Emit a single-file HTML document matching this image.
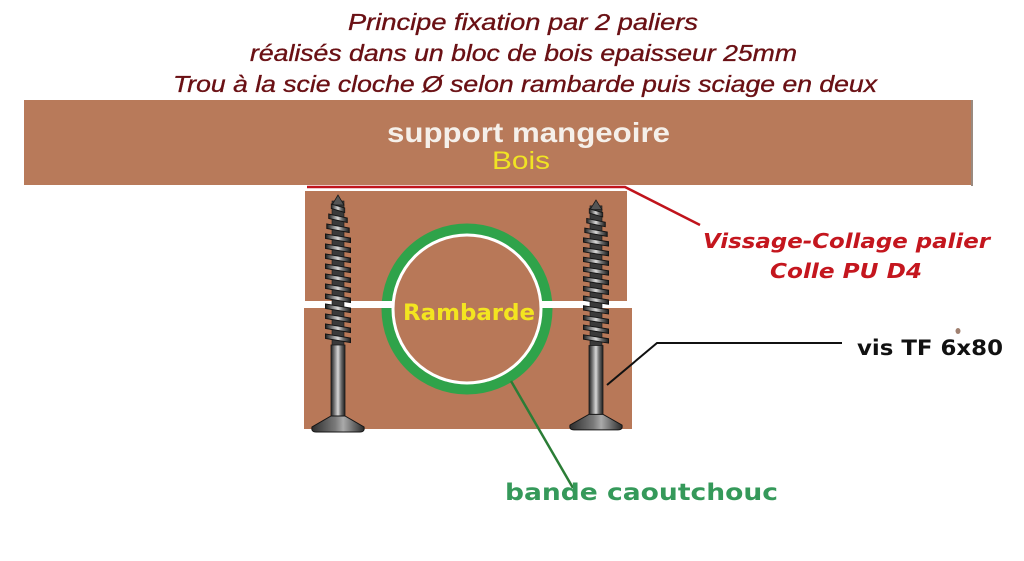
<!DOCTYPE html>
<html>
<head>
<meta charset="utf-8">
<style>
  html,body{margin:0;padding:0;background:#fff;}
  svg{display:block;}
  .title{font-family:"Liberation Sans",sans-serif;font-style:italic;font-size:23px;fill:#6a1014;stroke:#6a1014;stroke-width:0.35;}
</style>
</head>
<body>
<svg width="1024" height="561" viewBox="0 0 1024 561" xmlns="http://www.w3.org/2000/svg">
  <defs>
    <linearGradient id="metal" x1="0" y1="0" x2="1" y2="0">
      <stop offset="0" stop-color="#1e1e1e"/>
      <stop offset="0.25" stop-color="#7a7a7a"/>
      <stop offset="0.5" stop-color="#d8d8d8"/>
      <stop offset="0.72" stop-color="#6e6e6e"/>
      <stop offset="1" stop-color="#1e1e1e"/>
    </linearGradient>
    <linearGradient id="headg" x1="0" y1="0" x2="1" y2="0">
      <stop offset="0" stop-color="#2e2e2e"/>
      <stop offset="0.45" stop-color="#7a7a7a"/>
      <stop offset="0.6" stop-color="#aaaaaa"/>
      <stop offset="1" stop-color="#2a2a2a"/>
    </linearGradient>
    <polygon id="crest" points="-12.5,0 12.5,4 12.5,8.5 -12.5,4.5" fill="url(#metal)" stroke="#151515" stroke-width="1"/>
    <g id="screw">
      <rect x="-6" y="6" width="12" height="146" fill="#3a3a3a" stroke="#1a1a1a" stroke-width="0.6"/>
      <path d="M0,0 L-6,10 L6,10 Z" fill="#555" stroke="#1a1a1a" stroke-width="0.8"/>
      <use href="#crest" transform="translate(0,9) scale(0.55,1)"/>
      <use href="#crest" transform="translate(0,19) scale(0.75,1)"/>
      <use href="#crest" transform="translate(0,29) scale(0.9,1)"/>
      <use href="#crest" transform="translate(0,39)"/>
      <use href="#crest" transform="translate(0,49)"/>
      <use href="#crest" transform="translate(0,59)"/>
      <use href="#crest" transform="translate(0,69)"/>
      <use href="#crest" transform="translate(0,79)"/>
      <use href="#crest" transform="translate(0,89)"/>
      <use href="#crest" transform="translate(0,99)"/>
      <use href="#crest" transform="translate(0,109)"/>
      <use href="#crest" transform="translate(0,119)"/>
      <use href="#crest" transform="translate(0,129)"/>
      <use href="#crest" transform="translate(0,139)"/>
      <rect x="-7" y="150" width="14" height="72" fill="url(#metal)" stroke="#1a1a1a" stroke-width="0.8"/>
      <path d="M-7,221 L7,221 L26,232 Q27,237 22,237 L-22,237 Q-27,237 -26,232 Z" fill="url(#headg)" stroke="#151515" stroke-width="1"/>
    </g>
  </defs>

  <!-- Title -->
  <text class="title" x="348" y="30" textLength="350" lengthAdjust="spacingAndGlyphs">Principe fixation par 2 paliers</text>
  <text class="title" x="250" y="61" textLength="547" lengthAdjust="spacingAndGlyphs">réalisés dans un bloc de bois epaisseur 25mm</text>
  <text class="title" x="173" y="92" textLength="704" lengthAdjust="spacingAndGlyphs">Trou à la scie cloche Ø selon rambarde puis sciage en deux</text>

  <!-- Top bar -->
  <rect x="24" y="100" width="948" height="85" fill="#b87a5a"/>
  <rect x="971" y="100" width="2" height="86" fill="#9a8a80"/>
  <text x="387" y="142" font-family="'Liberation Sans',sans-serif" font-weight="bold" font-size="28" fill="#f5f0ea" textLength="283" lengthAdjust="spacingAndGlyphs">support mangeoire</text>
  <text x="492" y="169" font-family="'Liberation Sans',sans-serif" font-size="25" fill="#f0e424" textLength="58" lengthAdjust="spacingAndGlyphs">Bois</text>

  <!-- Blocks -->
  <rect x="305" y="191" width="322" height="110" fill="#b87858"/>
  <rect x="304" y="308" width="328" height="121" fill="#b87858"/>

  <!-- Rubber ring -->
  <circle cx="467" cy="309" r="80" fill="none" stroke="#2fa34a" stroke-width="11"/>
  <circle cx="467" cy="309" r="74" fill="#b87858" stroke="#ffffff" stroke-width="3"/>
  <rect x="304" y="301" width="89" height="7" fill="#ffffff"/>
  <rect x="541" y="301" width="91" height="7" fill="#ffffff"/>

  <text x="403" y="320" font-family="'DejaVu Sans',sans-serif" font-weight="bold" font-size="22" fill="#f3e520" textLength="132" lengthAdjust="spacingAndGlyphs">Rambarde</text>

  <!-- Screws -->
  <use href="#screw" transform="translate(338,195)"/>
  <use href="#screw" transform="translate(596,200) scale(1,0.97)"/>

  <!-- Red leader -->
  <polyline points="307,187 625,187 700,225" fill="none" stroke="#c0141c" stroke-width="2.5"/>
  <text x="703" y="248" font-family="'DejaVu Sans',sans-serif" font-weight="bold" font-style="italic" font-size="20" fill="#c4161e" textLength="287" lengthAdjust="spacingAndGlyphs">Vissage-Collage palier</text>
  <text x="770" y="278" font-family="'DejaVu Sans',sans-serif" font-weight="bold" font-style="italic" font-size="20" fill="#c4161e" textLength="152" lengthAdjust="spacingAndGlyphs">Colle PU D4</text>

  <!-- Black leader -->
  <polyline points="607,385 657,343 842,343" fill="none" stroke="#111" stroke-width="2"/>
  <text x="857" y="355" font-family="'DejaVu Sans',sans-serif" font-weight="bold" font-size="21" fill="#111" textLength="146" lengthAdjust="spacingAndGlyphs">vis TF 6x80</text>
  <ellipse cx="958" cy="331" rx="2.5" ry="3" fill="#a08070"/>

  <!-- Green leader -->
  <line x1="511" y1="381" x2="573" y2="488" stroke="#2b7d36" stroke-width="2.5"/>
  <text x="505" y="500" font-family="'DejaVu Sans',sans-serif" font-weight="bold" font-size="23" fill="#35995a" textLength="273" lengthAdjust="spacingAndGlyphs">bande caoutchouc</text>
</svg>
</body>
</html>
